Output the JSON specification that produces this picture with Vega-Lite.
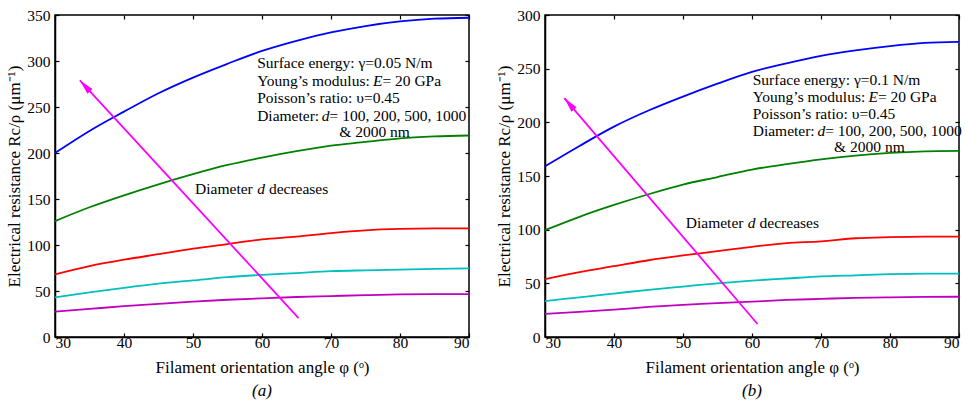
{
  "$schema": "https://vega.github.io/schema/vega-lite/v6.json",
  "padding": {"left": 5, "top": 7, "right": 5, "bottom": 5},
  "bounds": "flush",
  "spacing": 76,
  "config": {
    "font": "Liberation Serif",
    "view": {"stroke": "black", "strokeWidth": 1.5},
    "axis": {
      "grid": false,
      "domainColor": "black",
      "domainWidth": 1.5,
      "tickColor": "black",
      "tickWidth": 1.2,
      "tickSize": -4,
      "labelFont": "Liberation Serif",
      "labelFontSize": 15.5,
      "labelColor": "black",
      "titleFont": "Liberation Serif",
      "titleFontSize": 17,
      "titleFontWeight": "normal",
      "titleColor": "black"
    },
    "title": {"font": "Liberation Serif", "fontSize": 17, "fontWeight": "normal", "fontStyle": "italic", "color": "black"}
  },
  "datasets": {
    "a": [
      {"d": "100 nm", "angle": 30, "r": 200}, {"d": "100 nm", "angle": 35, "r": 224}, {"d": "100 nm", "angle": 40, "r": 245}, {"d": "100 nm", "angle": 45, "r": 265}, {"d": "100 nm", "angle": 50, "r": 282}, {"d": "100 nm", "angle": 55, "r": 297}, {"d": "100 nm", "angle": 60, "r": 311}, {"d": "100 nm", "angle": 65, "r": 322}, {"d": "100 nm", "angle": 70, "r": 331}, {"d": "100 nm", "angle": 75, "r": 338}, {"d": "100 nm", "angle": 80, "r": 343}, {"d": "100 nm", "angle": 85, "r": 346}, {"d": "100 nm", "angle": 90, "r": 347},
      {"d": "200 nm", "angle": 30, "r": 126}, {"d": "200 nm", "angle": 35, "r": 141}, {"d": "200 nm", "angle": 40, "r": 154}, {"d": "200 nm", "angle": 45, "r": 166}, {"d": "200 nm", "angle": 50, "r": 177}, {"d": "200 nm", "angle": 55, "r": 187}, {"d": "200 nm", "angle": 60, "r": 195}, {"d": "200 nm", "angle": 65, "r": 202}, {"d": "200 nm", "angle": 70, "r": 208}, {"d": "200 nm", "angle": 75, "r": 212}, {"d": "200 nm", "angle": 80, "r": 216}, {"d": "200 nm", "angle": 85, "r": 218}, {"d": "200 nm", "angle": 90, "r": 219},
      {"d": "500 nm", "angle": 30, "r": 68}, {"d": "500 nm", "angle": 35, "r": 77}, {"d": "500 nm", "angle": 40, "r": 84}, {"d": "500 nm", "angle": 45, "r": 90}, {"d": "500 nm", "angle": 50, "r": 96}, {"d": "500 nm", "angle": 55, "r": 101}, {"d": "500 nm", "angle": 60, "r": 106}, {"d": "500 nm", "angle": 65, "r": 109}, {"d": "500 nm", "angle": 70, "r": 113}, {"d": "500 nm", "angle": 75, "r": 116}, {"d": "500 nm", "angle": 80, "r": 117.5}, {"d": "500 nm", "angle": 85, "r": 118}, {"d": "500 nm", "angle": 90, "r": 118},
      {"d": "1000 nm", "angle": 30, "r": 43}, {"d": "1000 nm", "angle": 35, "r": 48.5}, {"d": "1000 nm", "angle": 40, "r": 53.5}, {"d": "1000 nm", "angle": 45, "r": 58}, {"d": "1000 nm", "angle": 50, "r": 61.5}, {"d": "1000 nm", "angle": 55, "r": 65}, {"d": "1000 nm", "angle": 60, "r": 67.5}, {"d": "1000 nm", "angle": 65, "r": 69.5}, {"d": "1000 nm", "angle": 70, "r": 71.5}, {"d": "1000 nm", "angle": 75, "r": 72.5}, {"d": "1000 nm", "angle": 80, "r": 73.3}, {"d": "1000 nm", "angle": 85, "r": 74}, {"d": "1000 nm", "angle": 90, "r": 74.5},
      {"d": "2000 nm", "angle": 30, "r": 27.5}, {"d": "2000 nm", "angle": 35, "r": 30.5}, {"d": "2000 nm", "angle": 40, "r": 33.5}, {"d": "2000 nm", "angle": 45, "r": 36}, {"d": "2000 nm", "angle": 50, "r": 38.5}, {"d": "2000 nm", "angle": 55, "r": 40.5}, {"d": "2000 nm", "angle": 60, "r": 42}, {"d": "2000 nm", "angle": 65, "r": 43.5}, {"d": "2000 nm", "angle": 70, "r": 44.5}, {"d": "2000 nm", "angle": 75, "r": 45.5}, {"d": "2000 nm", "angle": 80, "r": 46.3}, {"d": "2000 nm", "angle": 85, "r": 46.6}, {"d": "2000 nm", "angle": 90, "r": 46.7}
    ],
    "b": [
      {"d": "100 nm", "angle": 30, "r": 159}, {"d": "100 nm", "angle": 35, "r": 178}, {"d": "100 nm", "angle": 40, "r": 196}, {"d": "100 nm", "angle": 45, "r": 211}, {"d": "100 nm", "angle": 50, "r": 224}, {"d": "100 nm", "angle": 55, "r": 236}, {"d": "100 nm", "angle": 60, "r": 247}, {"d": "100 nm", "angle": 65, "r": 255}, {"d": "100 nm", "angle": 70, "r": 262}, {"d": "100 nm", "angle": 75, "r": 267}, {"d": "100 nm", "angle": 80, "r": 271}, {"d": "100 nm", "angle": 85, "r": 274}, {"d": "100 nm", "angle": 90, "r": 275},
      {"d": "200 nm", "angle": 30, "r": 99.5}, {"d": "200 nm", "angle": 35, "r": 112}, {"d": "200 nm", "angle": 40, "r": 123}, {"d": "200 nm", "angle": 45, "r": 133}, {"d": "200 nm", "angle": 50, "r": 142}, {"d": "200 nm", "angle": 55, "r": 149}, {"d": "200 nm", "angle": 60, "r": 156}, {"d": "200 nm", "angle": 65, "r": 161}, {"d": "200 nm", "angle": 70, "r": 165.5}, {"d": "200 nm", "angle": 75, "r": 169}, {"d": "200 nm", "angle": 80, "r": 171.5}, {"d": "200 nm", "angle": 85, "r": 173}, {"d": "200 nm", "angle": 90, "r": 173.5},
      {"d": "500 nm", "angle": 30, "r": 54}, {"d": "500 nm", "angle": 35, "r": 60.5}, {"d": "500 nm", "angle": 40, "r": 66}, {"d": "500 nm", "angle": 45, "r": 71.5}, {"d": "500 nm", "angle": 50, "r": 76}, {"d": "500 nm", "angle": 55, "r": 80}, {"d": "500 nm", "angle": 60, "r": 84}, {"d": "500 nm", "angle": 65, "r": 87.5}, {"d": "500 nm", "angle": 70, "r": 89}, {"d": "500 nm", "angle": 75, "r": 92}, {"d": "500 nm", "angle": 80, "r": 93}, {"d": "500 nm", "angle": 85, "r": 93.5}, {"d": "500 nm", "angle": 90, "r": 93.5},
      {"d": "1000 nm", "angle": 30, "r": 33.5}, {"d": "1000 nm", "angle": 35, "r": 37}, {"d": "1000 nm", "angle": 40, "r": 40.5}, {"d": "1000 nm", "angle": 45, "r": 44}, {"d": "1000 nm", "angle": 50, "r": 47}, {"d": "1000 nm", "angle": 55, "r": 50}, {"d": "1000 nm", "angle": 60, "r": 52.5}, {"d": "1000 nm", "angle": 65, "r": 54.5}, {"d": "1000 nm", "angle": 70, "r": 56.5}, {"d": "1000 nm", "angle": 75, "r": 57.5}, {"d": "1000 nm", "angle": 80, "r": 58.5}, {"d": "1000 nm", "angle": 85, "r": 59}, {"d": "1000 nm", "angle": 90, "r": 59},
      {"d": "2000 nm", "angle": 30, "r": 21.5}, {"d": "2000 nm", "angle": 35, "r": 23.5}, {"d": "2000 nm", "angle": 40, "r": 25.5}, {"d": "2000 nm", "angle": 45, "r": 28}, {"d": "2000 nm", "angle": 50, "r": 30}, {"d": "2000 nm", "angle": 55, "r": 31.5}, {"d": "2000 nm", "angle": 60, "r": 33}, {"d": "2000 nm", "angle": 65, "r": 34.5}, {"d": "2000 nm", "angle": 70, "r": 35.5}, {"d": "2000 nm", "angle": 75, "r": 36.5}, {"d": "2000 nm", "angle": 80, "r": 37}, {"d": "2000 nm", "angle": 85, "r": 37.3}, {"d": "2000 nm", "angle": 90, "r": 37.5}
    ],
    "textA": [
      {"x": 59.3, "y": 297.7, "t": "Surface energy: γ=0.05 N/m"},
      {"x": 59.3, "y": 278.8, "t": "Young’s modulus:"},
      {"x": 77.45, "y": 278.8, "t": "= 20 GPa"},
      {"x": 59.3, "y": 259.7, "t": "Poisson’s ratio: υ=0.45"},
      {"x": 59.3, "y": 240.5, "t": "Diameter:"},
      {"x": 69.8, "y": 240.5, "t": "= 100, 200, 500, 1000"},
      {"x": 71.2, "y": 222.4, "t": "& 2000 nm"},
      {"x": 50.3, "y": 161, "t": "Diameter"},
      {"x": 61.0, "y": 161, "t": "decreases"}
    ],
    "textAi": [
      {"x": 76.07, "y": 278.8, "t": "E"},
      {"x": 68.67, "y": 240.5, "t": "d"},
      {"x": 59.3, "y": 161, "t": "d"}
    ],
    "textB": [
      {"x": 60.1, "y": 239.6, "t": "Surface energy: γ=0.1 N/m"},
      {"x": 60.1, "y": 223.6, "t": "Young’s modulus:"},
      {"x": 78.25, "y": 223.6, "t": "= 20 GPa"},
      {"x": 60.1, "y": 207.8, "t": "Poisson’s ratio: υ=0.45"},
      {"x": 60.1, "y": 192.3, "t": "Diameter:"},
      {"x": 70.6, "y": 192.3, "t": "= 100, 200, 500, 1000"},
      {"x": 71.9, "y": 176.8, "t": "& 2000 nm"},
      {"x": 50.4, "y": 106.5, "t": "Diameter"},
      {"x": 61.1, "y": 106.5, "t": "decreases"}
    ],
    "textBi": [
      {"x": 76.87, "y": 223.6, "t": "E"},
      {"x": 69.48, "y": 192.3, "t": "d"},
      {"x": 59.4, "y": 106.5, "t": "d"}
    ],
    "arrowA": [{"x1": 65.3, "y1": 20.6, "x2": 33.6, "y2": 279}],
    "arrowB": [{"x1": 60.8, "y1": 12.1, "x2": 32.8, "y2": 222.6}]
  },
  "hconcat": [
    {
      "width": 414,
      "height": 322,
      "title": {"text": "(a)", "orient": "bottom", "offset": 7},
      "resolve": {"axis": {"x": "independent", "y": "independent"}},
      "layer": [
        {
          "data": {"name": "a"},
          "mark": {"type": "line", "strokeWidth": 1.8, "interpolate": "monotone"},
          "encoding": {
            "x": {"field": "angle", "type": "quantitative", "scale": {"domain": [30, 90], "nice": false},
                  "axis": {"values": [30, 40, 50, 60, 70, 80, 90], "labelPadding": 2, "title": "Filament orientation angle φ (ᵒ)", "titlePadding": 9}},
            "y": {"field": "r", "type": "quantitative", "scale": {"domain": [0, 350], "nice": false},
                  "axis": {"values": [0, 50, 100, 150, 200, 250, 300, 350], "labelPadding": 9, "title": "Electrical resistance Rc/ρ (μm⁻¹)", "titlePadding": 3}},
            "color": {"field": "d", "type": "nominal", "legend": null,
                      "scale": {"domain": ["100 nm", "200 nm", "500 nm", "1000 nm", "2000 nm"], "range": ["#0000FF", "#008000", "#FF0000", "#00BFBF", "#BF00BF"]}}
          }
        },
        {
          "data": {"name": "a"},
          "mark": {"type": "point", "opacity": 0},
          "encoding": {
            "x": {"field": "angle", "type": "quantitative", "axis": {"orient": "top", "values": [30, 40, 50, 60, 70, 80, 90], "labels": false, "title": null, "domain": false}},
            "y": {"field": "r", "type": "quantitative", "axis": {"orient": "right", "values": [0, 50, 100, 150, 200, 250, 300, 350], "labels": false, "title": null, "domain": false}}
          }
        },
        {
          "data": {"name": "arrowA"},
          "mark": {"type": "rule", "color": "#FF00FF", "strokeWidth": 1.8},
          "encoding": {
            "x": {"field": "x1", "type": "quantitative", "axis": null},
            "y": {"field": "y1", "type": "quantitative", "axis": null},
            "x2": {"field": "x2"},
            "y2": {"field": "y2"}
          }
        },
        {
          "data": {"name": "arrowA"},
          "mark": {"type": "point", "shape": "M0,0L-0.5,2.2L0.5,2.2Z", "size": 185, "filled": true, "opacity": 1, "color": "#FF00FF", "angle": -42.5},
          "encoding": {
            "x": {"field": "x2", "type": "quantitative", "axis": null},
            "y": {"field": "y2", "type": "quantitative", "axis": null}
          }
        },
        {
          "data": {"name": "textA"},
          "mark": {"type": "text", "align": "left", "baseline": "middle", "fontSize": 15.5, "font": "Liberation Serif", "color": "black"},
          "encoding": {
            "x": {"field": "x", "type": "quantitative", "axis": null},
            "y": {"field": "y", "type": "quantitative", "axis": null},
            "text": {"field": "t"}
          }
        },
        {
          "data": {"name": "textAi"},
          "mark": {"type": "text", "align": "left", "baseline": "middle", "fontSize": 15.5, "font": "Liberation Serif", "fontStyle": "italic", "color": "black"},
          "encoding": {
            "x": {"field": "x", "type": "quantitative", "axis": null},
            "y": {"field": "y", "type": "quantitative", "axis": null},
            "text": {"field": "t"}
          }
        }
      ]
    },
    {
      "width": 414,
      "height": 322,
      "title": {"text": "(b)", "orient": "bottom", "offset": 7},
      "resolve": {"axis": {"x": "independent", "y": "independent"}},
      "layer": [
        {
          "data": {"name": "b"},
          "mark": {"type": "line", "strokeWidth": 1.8, "interpolate": "monotone"},
          "encoding": {
            "x": {"field": "angle", "type": "quantitative", "scale": {"domain": [30, 90], "nice": false},
                  "axis": {"values": [30, 40, 50, 60, 70, 80, 90], "labelPadding": 2, "title": "Filament orientation angle φ (ᵒ)", "titlePadding": 9}},
            "y": {"field": "r", "type": "quantitative", "scale": {"domain": [0, 300], "nice": false},
                  "axis": {"values": [0, 50, 100, 150, 200, 250, 300], "labelPadding": 9, "title": "Electrical resistance Rc/ρ (μm⁻¹)", "titlePadding": 3}},
            "color": {"field": "d", "type": "nominal", "legend": null,
                      "scale": {"domain": ["100 nm", "200 nm", "500 nm", "1000 nm", "2000 nm"], "range": ["#0000FF", "#008000", "#FF0000", "#00BFBF", "#BF00BF"]}}
          }
        },
        {
          "data": {"name": "b"},
          "mark": {"type": "point", "opacity": 0},
          "encoding": {
            "x": {"field": "angle", "type": "quantitative", "axis": {"orient": "top", "values": [30, 40, 50, 60, 70, 80, 90], "labels": false, "title": null, "domain": false}},
            "y": {"field": "r", "type": "quantitative", "axis": {"orient": "right", "values": [0, 50, 100, 150, 200, 250, 300], "labels": false, "title": null, "domain": false}}
          }
        },
        {
          "data": {"name": "arrowB"},
          "mark": {"type": "rule", "color": "#FF00FF", "strokeWidth": 1.8},
          "encoding": {
            "x": {"field": "x1", "type": "quantitative", "axis": null},
            "y": {"field": "y1", "type": "quantitative", "axis": null},
            "x2": {"field": "x2"},
            "y2": {"field": "y2"}
          }
        },
        {
          "data": {"name": "arrowB"},
          "mark": {"type": "point", "shape": "M0,0L-0.5,2.2L0.5,2.2Z", "size": 185, "filled": true, "opacity": 1, "color": "#FF00FF", "angle": -40.5},
          "encoding": {
            "x": {"field": "x2", "type": "quantitative", "axis": null},
            "y": {"field": "y2", "type": "quantitative", "axis": null}
          }
        },
        {
          "data": {"name": "textB"},
          "mark": {"type": "text", "align": "left", "baseline": "middle", "fontSize": 15.5, "font": "Liberation Serif", "color": "black"},
          "encoding": {
            "x": {"field": "x", "type": "quantitative", "axis": null},
            "y": {"field": "y", "type": "quantitative", "axis": null},
            "text": {"field": "t"}
          }
        },
        {
          "data": {"name": "textBi"},
          "mark": {"type": "text", "align": "left", "baseline": "middle", "fontSize": 15.5, "font": "Liberation Serif", "fontStyle": "italic", "color": "black"},
          "encoding": {
            "x": {"field": "x", "type": "quantitative", "axis": null},
            "y": {"field": "y", "type": "quantitative", "axis": null},
            "text": {"field": "t"}
          }
        }
      ]
    }
  ]
}
